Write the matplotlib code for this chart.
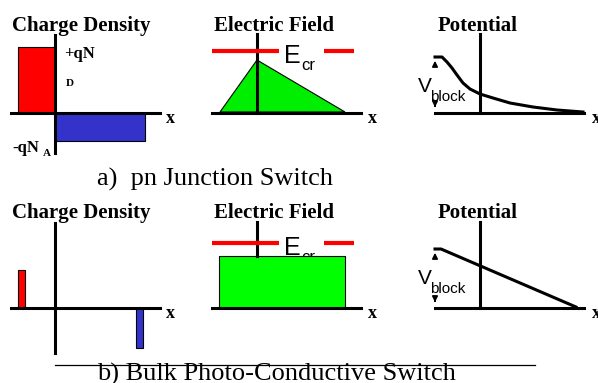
import matplotlib.pyplot as plt
from matplotlib.patches import Polygon, Rectangle

# diagram coordinates (pixel space of the original slide, y grows downward)
# --- a) pn junction switch ---
a_red_rect = (18, 47, 37, 66)         # x, y, w, h
a_blue_rect = (55, 113, 90, 28)
a_field_tri = [(220, 112), (257, 60), (345, 112)]
a_pot_x = [435, 442, 447, 452, 457, 463, 470, 480, 493, 510, 533, 557, 583]
a_pot_y = [57, 57, 62, 68, 75, 83, 89, 94, 98, 103, 107, 110, 112]

# --- b) bulk photo-conductive switch ---
b_red_rect = (18, 270, 7, 38)
b_blue_rect = (136, 308, 7, 40)
b_field_rect = (219, 256, 126, 52)
b_pot_x = [435, 441, 576]
b_pot_y = [249, 249, 307]

rows_axis_y = [113, 308]
rows_top = [35, 223]
title_base = [31, 218]

fig = plt.figure(figsize=(5.98, 3.83), dpi=100)
ax = fig.add_axes([0, 0, 1, 1])
ax.set_xlim(0, 598)
ax.set_ylim(383, 0)
ax.axis("off")

serif = "Liberation Serif"
sans = "Liberation Sans"
axlw = 2.2

def rect(r, color):
    ax.add_patch(Rectangle((r[0], r[1]), r[2], r[3], facecolor=color,
                           edgecolor="black", lw=0.8, zorder=2))

# filled shapes
rect(a_red_rect, "#ff0000")
rect(a_blue_rect, "#3333cc")
ax.add_patch(Polygon(a_field_tri, closed=True, facecolor="#00ee00",
                     edgecolor="black", lw=0.8, zorder=2))
rect(b_red_rect, "#ff0000")
rect(b_blue_rect, "#3333cc")
rect(b_field_rect, "#00ff00")

# axes of every small panel
for i, y0 in enumerate(rows_axis_y):
    bottom = 153 if i == 0 else 353
    # charge density
    ax.plot([11, 160], [y0, y0], color="k", lw=axlw, zorder=3)
    ax.plot([55, 55], [rows_top[i], bottom], color="k", lw=axlw, zorder=3)
    ax.text(166, y0 + 10, "x", fontfamily=serif, fontweight="bold",
            fontsize=13, va="baseline")
    # electric field
    ax.plot([212, 361], [y0, y0], color="k", lw=axlw, zorder=3)
    vtop = 113 if i == 0 else 256
    ax.plot([257, 257], [rows_top[i] - 1, vtop], color="k", lw=axlw, zorder=3)
    ax.text(368, y0 + 10, "x", fontfamily=serif, fontweight="bold",
            fontsize=13, va="baseline")
    # potential
    ax.plot([435, 584], [y0, y0], color="k", lw=axlw, zorder=3)
    ax.plot([480, 480], [rows_top[i] - 1, y0], color="k", lw=axlw, zorder=3)
    ax.text(592, y0 + 10, "x", fontfamily=serif, fontweight="bold",
            fontsize=13, va="baseline")

    # titles
    ax.text(12, title_base[i], "Charge Density", fontfamily=serif,
            fontweight="bold", fontsize=15, va="baseline")
    ax.text(214, title_base[i], "Electric Field", fontfamily=serif,
            fontweight="bold", fontsize=15, va="baseline")
    ax.text(438, title_base[i], "Potential", fontfamily=serif,
            fontweight="bold", fontsize=15, va="baseline")

    # critical field dashes
    ey = 51 if i == 0 else 243
    ax.plot([212, 279], [ey, ey], color="#ff0000", lw=3, zorder=4,
            solid_capstyle="butt")
    ax.plot([324, 354], [ey, ey], color="#ff0000", lw=3, zorder=4,
            solid_capstyle="butt")
    ax.text(284, ey + 12, "E", fontfamily=sans, fontsize=18, va="baseline")
    ax.text(301, ey + 19, "cr", fontfamily=sans, fontsize=12, va="baseline",
            zorder=1)

    # V_block label and arrows
    vt = 57 if i == 0 else 249
    ax.text(418, vt + 35, "V", fontfamily=sans, fontsize=15, va="baseline")
    ax.text(430, vt + 44, "block", fontfamily=sans, fontsize=11, va="baseline")
    ax.annotate("", xy=(435, vt + 1), xytext=(435, vt + 11),
                arrowprops=dict(arrowstyle="-|>", color="k", lw=1.2,
                                mutation_scale=8))
    ax.annotate("", xy=(435, y0 - 3), xytext=(435, y0 - 10),
                arrowprops=dict(arrowstyle="-|>", color="k", lw=1.2,
                                mutation_scale=8))

# potential curves
ax.plot(a_pot_x, a_pot_y, color="k", lw=2.2, zorder=3)
ax.plot(b_pot_x, b_pot_y, color="k", lw=2.2, zorder=3)

# charge labels
ax.text(64, 58, "+qN", fontfamily=serif, fontweight="bold", fontsize=12,
        va="baseline")
ax.text(66, 86, "D", fontfamily=serif, fontweight="bold", fontsize=8,
        va="baseline")
ax.text(12, 152, "-qN", fontfamily=serif, fontweight="bold", fontsize=12,
        va="baseline")
ax.text(43, 156, "A", fontfamily=serif, fontweight="bold", fontsize=8,
        va="baseline")

# captions
ax.text(97, 186, "a)  pn Junction Switch", fontfamily=serif, fontsize=19,
        va="baseline")
ax.text(97, 381, "b) Bulk Photo-Conductive Switch", fontfamily=serif,
        fontsize=19, va="baseline")
ax.plot([55, 535], [365, 365], color="k", lw=0.9, zorder=5)

fig.savefig("out.png", dpi=100)
